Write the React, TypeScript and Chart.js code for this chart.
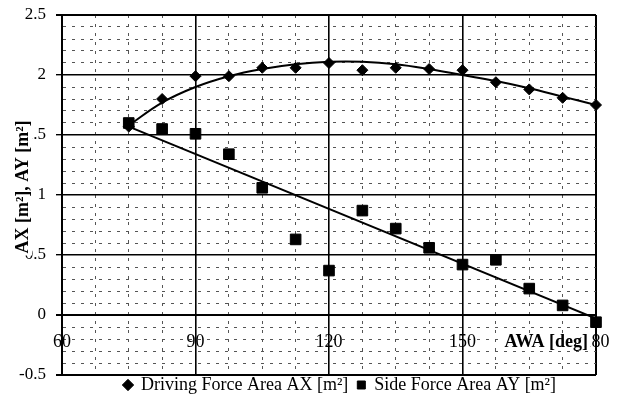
import { useEffect, useRef } from "react";
import { Chart, registerables } from "chart.js";

Chart.register(...registerables);

// ---- data ----
const awa = [75, 82.5, 90, 97.5, 105, 112.5, 120, 127.5, 135, 142.5, 150, 157.5, 165, 172.5, 180];
const drivingAX = [1.57, 1.80, 1.99, 1.99, 2.06, 2.06, 2.10, 2.04, 2.06, 2.05, 2.04, 1.94, 1.88, 1.81, 1.75];
const sideAY = [1.60, 1.55, 1.51, 1.34, 1.06, 0.63, 0.37, 0.87, 0.72, 0.56, 0.42, 0.46, 0.22, 0.08, -0.06];
const trendAX = [1.58, 1.77, 1.90, 1.99, 2.05, 2.09, 2.11, 2.11, 2.09, 2.05, 2.00, 1.95, 1.89, 1.82, 1.75];
const trendAYx = [75, 180];
const trendAY = [1.57, -0.03];

const xMin = 60, xMax = 180, xStep = 7.5, xLabelEvery = 30;
const yMin = -0.5, yMax = 2.5, yStep = 0.1, yLabelEvery = 0.5;

const legendLabels = ["Driving Force Area AX [m\u00B2]", "Side Force Area AY [m\u00B2]"];
const xTitle = "AWA [deg]";
const yTitle = "AX [m\u00B2], AY [m\u00B2]";

const FONT = '"Liberation Serif", "Times New Roman", serif';

const isMult = (v: number, m: number) => Math.abs(v / m - Math.round(v / m)) < 1e-6;

const pts = (xs: number[], ys: number[]) => xs.map((x, i) => ({ x, y: ys[i] }));

const overlayPlugin = {
  id: "overlay",
  afterLayout(chart: any) {
    const lg = chart.legend;
    if (lg) {
      const shift = 340 - (lg.left + lg.right) / 2;
      lg.left += shift;
      lg.right += shift;
      lg.top -= 8;
      lg.bottom = chart.height;
    }
  },
  afterDraw(chart: any) {
    const ctx = chart.ctx;
    const xs = chart.scales.x;
    const ys = chart.scales.y;
    ctx.save();
    ctx.font = `bold 18px ${FONT}`;
    ctx.textBaseline = "middle";
    // x title
    const tw = ctx.measureText(xTitle).width;
    const tx = xs.right - 8 - tw;
    const ty = ys.getPixelForValue(0) + 27;
    ctx.fillStyle = "#fff";
    ctx.fillRect(tx - 3, ty - 9, tw + 5, 18);
    ctx.fillStyle = "#000";
    ctx.textAlign = "left";
    ctx.fillText(xTitle, tx, ty);
    // y title
    const yw = ctx.measureText(yTitle).width;
    ctx.translate(23, (ys.top + ys.bottom) / 2 - 8);
    ctx.rotate(-Math.PI / 2);
    ctx.fillStyle = "#fff";
    ctx.fillRect(-yw / 2 - 2, -9, yw + 4, 18);
    ctx.fillStyle = "#000";
    ctx.textAlign = "center";
    ctx.fillText(yTitle, 0, 0);
    ctx.restore();
  },
};

export default function App() {
  const ref = useRef<HTMLCanvasElement>(null);

  useEffect(() => {
    const chart = new Chart(ref.current as HTMLCanvasElement, {
      type: "scatter",
      data: {
        datasets: [
          {
            label: legendLabels[0],
            data: pts(awa, drivingAX),
            pointStyle: "rectRot",
            pointRadius: 5.5,
            backgroundColor: "#000",
            borderColor: "#000",
            borderWidth: 1,
            clip: false,
          },
          {
            label: legendLabels[1],
            data: pts(awa, sideAY),
            pointStyle: "rect",
            pointRadius: 7.5,
            backgroundColor: "#000",
            borderColor: "#000",
            borderWidth: 1,
            clip: false,
          },
          {
            label: "",
            data: pts(awa, trendAX),
            showLine: true,
            tension: 0.4,
            pointRadius: 0,
            borderColor: "#000",
            borderWidth: 2,
          },
          {
            label: "",
            data: pts(trendAYx, trendAY),
            showLine: true,
            pointRadius: 0,
            borderColor: "#000",
            borderWidth: 2,
          },
        ],
      } as any,
      options: {
        animation: false,
        responsive: false,
        layout: { padding: { left: 0, right: 21, top: 15, bottom: 0 } },
        plugins: {
          tooltip: { enabled: false },
          legend: {
            position: "bottom",
            maxHeight: 21,
            labels: {
              usePointStyle: true,
              boxWidth: 8,
              boxHeight: 8,
              padding: 9,
              color: "#000",
              font: { family: FONT, size: 18 },
              filter: (item: any) => !!item.text,
            },
          },
        },
        scales: {
          x: {
            type: "linear",
            position: { y: 0 } as any,
            min: xMin,
            max: xMax,
            afterFit: (s: any) => {
              s.paddingLeft = 0;
              s.paddingRight = 0;
            },
            ticks: {
              stepSize: xStep,
              autoSkip: false,
              maxRotation: 0,
              padding: 16,
              color: "#000",
              font: { family: FONT, size: 18 },
              callback: (v: any) => (isMult(Number(v), xLabelEvery) ? String(v) : ""),
            },
            grid: {
              drawTicks: false,
              color: (c: any) => (c.tick && isMult(c.tick.value, xLabelEvery) ? "#000" : "#555"),
              lineWidth: (c: any) => {
                if (!c.tick) return 1;
                const v = c.tick.value;
                if (v === xMin || v === xMax) return 2;
                return isMult(v, xLabelEvery) ? 1.6 : 1;
              },
            },
            border: {
              display: true,
              color: "#000",
              width: 2,
              dash: (c: any) => (c.tick && !isMult(c.tick.value, xLabelEvery) ? [3, 6] : []),
            } as any,
          },
          y: {
            type: "linear",
            position: "left",
            min: yMin,
            max: yMax,
            afterFit: (s: any) => {
              s.width = 62;
              s.paddingTop = 0;
              s.paddingBottom = 0;
            },
            ticks: {
              stepSize: yStep,
              autoSkip: false,
              padding: 10,
              color: "#000",
              font: { family: FONT, size: 17 },
              callback: (v: any) => {
                const n = Number(v);
                return isMult(n, yLabelEvery) ? String(Math.round(n * 10) / 10) : "";
              },
            },
            grid: {
              tickLength: 6,
              tickColor: (c: any) => (c.tick && isMult(c.tick.value, yLabelEvery) ? "#000" : "rgba(0,0,0,0)"),
              tickBorderDash: [],
              color: (c: any) => (c.tick && isMult(c.tick.value, yLabelEvery) ? "#000" : "#555"),
              lineWidth: (c: any) => {
                if (!c.tick) return 1;
                const v = c.tick.value;
                if (Math.abs(v - yMin) < 1e-6 || Math.abs(v - yMax) < 1e-6 || Math.abs(v) < 1e-6) return 2;
                return isMult(v, yLabelEvery) ? 1.4 : 1;
              },
            },
            border: {
              display: true,
              color: "#000",
              width: 2,
              dash: (c: any) => (c.tick && !isMult(c.tick.value, yLabelEvery) ? [3, 6] : []),
            } as any,
          },
        },
      } as any,
      plugins: [overlayPlugin],
    });
    return () => chart.destroy();
  }, []);

  return (
    <div style={{ position: "absolute", left: 0, top: 0, width: 617, height: 396, background: "#fff" }}>
      <canvas ref={ref} width={617} height={396} style={{ display: "block" }} />
    </div>
  );
}
